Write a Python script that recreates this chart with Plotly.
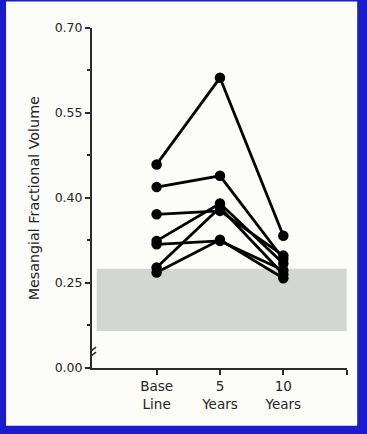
import plotly.graph_objects as go

# ---- data ----
categories = ["Base<br>Line", "5<br>Years", "10<br>Years"]
x_positions = [0, 1, 2]

baseline = [0.459, 0.419, 0.371, 0.324, 0.318, 0.277, 0.268]
year5 = [0.612, 0.439, 0.377, 0.390, 0.324, 0.383, 0.326]
year10 = [0.333, 0.292, 0.298, 0.284, 0.272, 0.265, 0.258]

normal_range = [0.165, 0.275]

y_tick_labels = ["0.00", "0.25", "0.40", "0.55", "0.70"]
y_tick_values = [0.0995, 0.25, 0.40, 0.55, 0.70]   # first is the broken-axis "0.00"
y_minor_values = [0.175, 0.325, 0.475, 0.625]
break_value = 0.1265

AX = "#2b2b2b"
TXT = "#242424"
FONT = "DejaVu Sans, Arial, sans-serif"

fig = go.Figure()

for b, f, t in zip(baseline, year5, year10):
    fig.add_trace(go.Scatter(
        x=x_positions, y=[b, f, t], mode="lines+markers",
        line=dict(color="black", width=2.8),
        marker=dict(color="black", size=10.5),
        showlegend=False, hoverinfo="skip"))

shapes = [
    # white panel on blue background
    dict(type="rect", xref="paper", yref="paper", x0=-0.337, x1=1.04, y0=-0.17, y1=1.078,
         fillcolor="#fcfcf8", line=dict(width=0), layer="below"),
    # normal range band
    dict(type="rect", xref="x", yref="y", x0=-0.946, x1=3.0,
         y0=normal_range[0], y1=normal_range[1],
         fillcolor="#d4d6d3", line=dict(width=0), layer="below"),
]
# axis break marks
for dy in (-2.5, 2.5):
    shapes.append(dict(type="line", xref="x", yref="y",
                       xsizemode="pixel", ysizemode="pixel",
                       xanchor=-1.02, yanchor=break_value,
                       x0=-4, x1=4, y0=dy - 3, y1=dy + 3,
                       line=dict(color=AX, width=1.5)))

fig.update_layout(
    width=367, height=434,
    margin=dict(l=92, r=20, t=28, b=66),
    paper_bgcolor="#1b1bcc",
    plot_bgcolor="rgba(0,0,0,0)",
    shapes=shapes,
    font=dict(family=FONT, color=TXT),
    xaxis=dict(range=[-1.02, 3.005], tickvals=x_positions + [3], ticktext=categories + [""],
               showline=True, linecolor=AX, linewidth=2, ticks="outside",
               ticklen=5, tickwidth=1.5, tickcolor=AX, showgrid=False, zeroline=False,
               tickfont=dict(size=13.5, family=FONT, color=TXT)),
    yaxis=dict(range=[0.0995, 0.70], tickvals=y_tick_values, ticktext=y_tick_labels,
               showline=True, linecolor=AX, linewidth=2, ticks="outside",
               ticklen=5, tickwidth=1.5, tickcolor=AX, showgrid=False, zeroline=False,
               tickfont=dict(size=12.5, family=FONT, color=TXT),
               minor=dict(tickvals=y_minor_values, ticks="outside", ticklen=3,
                          tickwidth=1.5, tickcolor=AX)),
    annotations=[dict(text="Mesangial Fractional Volume", xref="paper", yref="paper",
                      x=-0.226, y=0.5, xanchor="center", yanchor="middle",
                      textangle=-90, showarrow=False,
                      font=dict(size=14.3, family=FONT, color=TXT))],
)

fig.write_html("out.html", config={"displayModeBar": False},
               post_script="document.body.style.margin='0';document.body.style.overflow='hidden';")
